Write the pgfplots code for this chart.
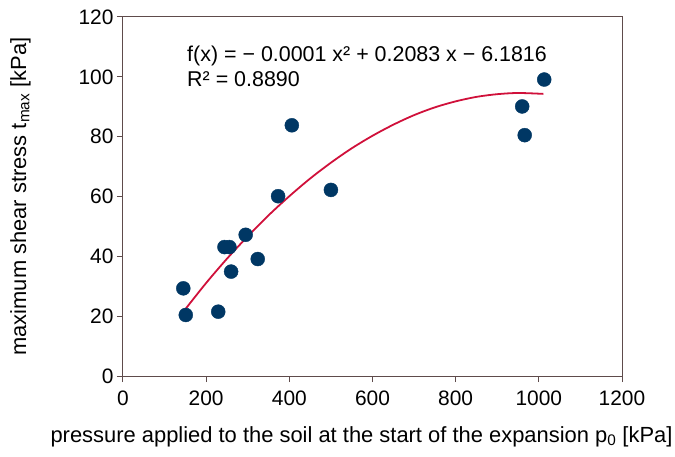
\documentclass[border=0pt]{standalone}
\usepackage{pgfplots}
\pgfplotsset{compat=1.18}
\usepackage{fontspec}
\setmainfont{Liberation Sans}

\definecolor{axisbrown}{HTML}{5E4B4B}
\definecolor{dotblue}{HTML}{003764}
\definecolor{fitred}{HTML}{D0103A}

\begin{document}
\begin{tikzpicture}
\begin{axis}[
    scale only axis,
    width=499bp,
    height=359bp,
    xmin=0, xmax=1200,
    ymin=0, ymax=120,
    xtick={0,200,...,1200},
    ytick={0,20,...,120},
    axis line style={axisbrown, line width=1pt},
    tick style={axisbrown, line width=1pt},
    tick align=outside,
    major tick length=6bp,
    xtick pos=bottom,
    ytick pos=left,
    /pgf/number format/assume math mode=true,
    /pgf/number format/1000 sep={},
    tick label style={font=\fontsize{21}{24}\selectfont},
    xticklabel style={yshift=-5bp},
    label style={font=\fontsize{22}{24}\selectfont},
    xlabel={pressure applied to the soil at the start of the expansion p\textsubscript{0} [kPa]},
    ylabel={maximum shear stress t\textsubscript{max} [kPa]},
    xlabel style={yshift=-14bp, xshift=-11bp},
    ylabel style={yshift=41bp},
    clip=false,
]
% fitted trend line
\addplot[fitred, line width=1.8pt, smooth] coordinates {
    (148, 22.0) (200, 31.1) (250, 39.2) (300, 46.7) (350, 53.7)
    (400, 60.1) (450, 66.0) (500, 71.3) (550, 76.1) (600, 80.3)
    (650, 84.0) (700, 87.2) (750, 89.8) (800, 91.8) (850, 93.3)
    (900, 94.2) (950, 94.6) (1011, 94.3)
};
% measured points
\addplot[only marks, mark=*, mark size=7bp, dotblue, mark options={draw=none, fill=dotblue}] coordinates {
    (145, 29.3) (151, 20.4) (229, 21.5) (244, 43.1) (256, 43.1)
    (260, 34.9) (295, 47.2) (324, 39.1) (373, 60.1) (406, 83.8)
    (500, 62.2) (960, 90.1) (966, 80.5) (1013, 99.1)
};
\node[anchor=base west, inner sep=0pt, font=\fontsize{21.5}{24}\selectfont]
    at (axis cs:154,105) {f(x) = − 0.0001 x² + 0.2083 x − 6.1816};
\node[anchor=base west, inner sep=0pt, font=\fontsize{21.5}{24}\selectfont]
    at (axis cs:154,96.7) {R² = 0.8890};
\end{axis}
\pgfresetboundingbox
\path[use as bounding box] (-123bp,-81bp) rectangle (552bp,376bp);
\end{tikzpicture}
\end{document}
